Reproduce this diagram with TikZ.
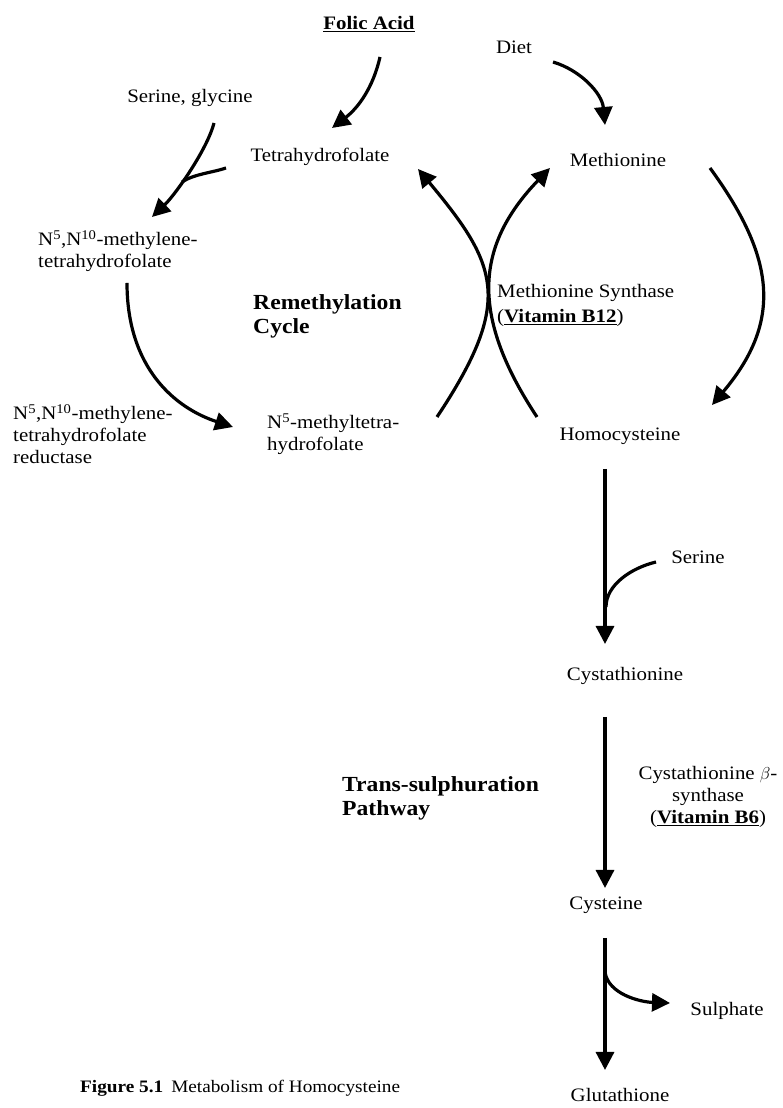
\documentclass[tikz,border=0pt]{standalone}
\usepackage{fontspec}
\setmainfont[FakeStretch=1.1]{Liberation Serif}
\usetikzlibrary{arrows.meta,calc}

\begin{document}
\begin{tikzpicture}[
    x=1pt, y=1pt,
    txt/.style={inner sep=0pt, align=left, font=\fontsize{19}{22}\selectfont},
    ttl/.style={inner sep=0pt, align=left, font=\fontsize{21.5}{24}\selectfont\bfseries},
    flow/.style={-{Triangle[length=18pt,width=18pt]}, line width=3.2pt},
    link/.style={line width=3.2pt}
]
\useasboundingbox (0,0) rectangle (783,1108);
\node[txt] (folic) at (369,1084) {\underline{\textbf{Folic Acid}}};
\node[txt] (diet) at (514,1061) {Diet};
\node[txt] (sergly) at (190,1010) {Serine, glycine};
\node[txt] (thf) at (320,951) {Tetrahydrofolate};
\node[txt] (met) at (618,948) {Methionine};
\node[txt, anchor=west] (mthf) at (38,857) {N\textsuperscript{5},N\textsuperscript{10}-methylene-\\tetrahydrofolate};
\node[ttl, anchor=west] (remeth) at (253,792) {Remethylation\\Cycle};
\node[txt, anchor=west] (mtr) at (13,674) {N\textsuperscript{5},N\textsuperscript{10}-methylene-\\tetrahydrofolate\\reductase};
\node[txt, anchor=west] (methyl) at (267,674) {N\textsuperscript{5}-methyltetra-\\hydrofolate};
\node[txt, anchor=west, font=\fontsize{19}{25}\selectfont] (msyn) at (497,803) {Methionine Synthase\\(\underline{\textbf{Vitamin B12}})};
\node[txt] (hcy) at (620,672) {Homocysteine};
\node[txt] (ser) at (698,551) {Serine};
\node[txt] (cysta) at (625,432) {Cystathionine};
\node[ttl, anchor=west] (tsp) at (342,310) {Trans-sulphuration\\Pathway};
\node[txt, align=center] (cbs) at (708,311) {Cystathionine $\beta$-\\synthase\\(\underline{\textbf{Vitamin B6}})};
\node[txt] (cys) at (606,203) {Cysteine};
\node[txt] (sulph) at (727,97) {Sulphate};
\node[txt] (glut) at (620,13) {Glutathione};
\node[txt, anchor=base west, font=\fontsize{17.5}{20}\selectfont] (cap) at (80,16) {\textbf{Figure 5.1}\hspace{8pt}Metabolism of Homocysteine};
% remethylation cycle
\draw[flow] ($(folic)+(11,-33)$) .. controls +(-7,-31) and +(26,20) .. ($(thf)+(12,29)$);
\draw[flow] ($(diet)+(39,-15)$) .. controls +(27,-8) and +(-3,32) .. ($(met)+(-13,35)$);
\draw[flow] ($(sergly)+(24,-25)$) .. controls +(-7,-27) and +(23,22) .. ($(mthf.west)+(114,34)$);
\coordinate (jn) at (182,926);
\draw[link] ($(thf)+(-94,-11)$) .. controls +(-15,-5) and +(12,8) .. (jn);
\draw[flow] ($(mthf.west)+(89,-32)$) .. controls +(0,-85) and +(-58,19) .. ($(methyl.west)+(-34,7)$);
\draw[flow] ($(methyl.west)+(170,17)$) .. controls +(77,116) and +(80,-96) .. ($(thf)+(98,-12)$);
\draw[flow] ($(hcy)+(-83,19)$) .. controls +(-66,100) and +(-76,-79) .. ($(met)+(-68,-8)$);
\draw[flow] ($(met)+(92,-8)$) .. controls +(65,-89) and +(71,84) .. ($(hcy)+(92,31)$);
% trans-sulphuration
\draw[flow] ($(hcy)+(-15,-33)$) -- ($(cysta)+(-20,32)$);
\draw[link] ($(ser)+(-42,-5)$) .. controls +(-25,-6) and +(0,22) .. ($(cysta)+(-19,69)$);
\draw[flow] ($(cysta)+(-20,-41)$) -- ($(cys)+(-1,17)$);
\draw[flow] ($(cys)+(-1,-33)$) -- ($(glut)+(-15,25)$);
\draw[flow] ($(cys)+(-1,-67)$) .. controls +(3,-22) and +(-30,1) .. ($(sulph)+(-57,8)$);
\end{tikzpicture}
\end{document}
